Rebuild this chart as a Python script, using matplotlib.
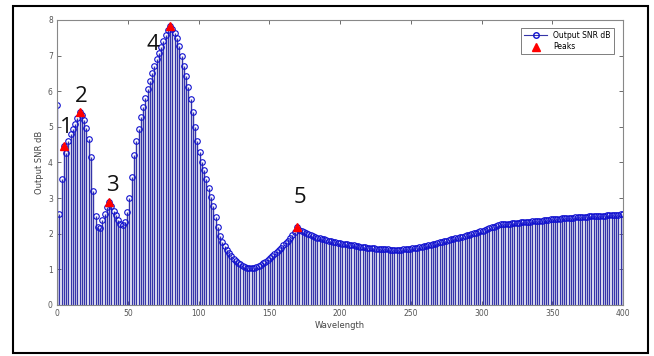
import matplotlib.pyplot as plt
import numpy as np
from matplotlib.patches import Rectangle
from matplotlib.lines import Line2D

# Output SNR (dB) sampled along wavelength 0..400
snr = [5.6, 2.55, 3.55, 4.45, 4.28, 4.6, 4.8, 4.93, 5.08, 5.25,
       5.42, 5.33, 5.18, 4.97, 4.65, 4.15, 3.2, 2.5, 2.18, 2.15,
       2.38, 2.56, 2.75, 2.88, 2.77, 2.65, 2.52, 2.38, 2.28, 2.24,
       2.33, 2.6, 3.0, 3.6, 4.2, 4.6, 4.95, 5.28, 5.55, 5.8,
       6.05, 6.3, 6.52, 6.72, 6.9, 7.08, 7.25, 7.42, 7.58, 7.72,
       7.82, 7.75, 7.63, 7.48, 7.28, 7.0, 6.72, 6.42, 6.12, 5.78,
       5.42, 5.0, 4.6, 4.3, 4.0, 3.78, 3.54, 3.28, 3.03, 2.78,
       2.48, 2.18, 1.95, 1.78, 1.65, 1.54, 1.45, 1.37, 1.3, 1.24,
       1.19, 1.14, 1.1, 1.07, 1.05, 1.03, 1.03, 1.04, 1.06, 1.09,
       1.13, 1.17, 1.22, 1.27, 1.32, 1.37, 1.43, 1.49, 1.55, 1.61,
       1.67, 1.74, 1.81, 1.88, 1.96, 2.05, 2.18, 2.1, 2.07, 2.04,
       2.01, 1.98, 1.96, 1.93, 1.91, 1.89, 1.87, 1.85, 1.84, 1.82,
       1.8, 1.79, 1.77, 1.76, 1.74, 1.73, 1.72, 1.71, 1.7, 1.69,
       1.68, 1.67, 1.66, 1.65, 1.64, 1.63, 1.62, 1.61, 1.61, 1.6,
       1.59, 1.58, 1.58, 1.57, 1.57, 1.56, 1.56, 1.55, 1.55, 1.55,
       1.55, 1.55, 1.55, 1.56, 1.56, 1.57, 1.58, 1.59, 1.6, 1.61,
       1.62, 1.63, 1.65, 1.66, 1.68, 1.69, 1.71, 1.72, 1.74, 1.76,
       1.77, 1.79, 1.8, 1.82, 1.84, 1.85, 1.87, 1.89, 1.9, 1.92,
       1.94, 1.96, 1.97, 1.99, 2.01, 2.03, 2.05, 2.07, 2.09, 2.11,
       2.13, 2.15, 2.18, 2.2, 2.23, 2.25, 2.26, 2.26, 2.27, 2.28,
       2.28, 2.29, 2.3, 2.3, 2.31, 2.32, 2.32, 2.33, 2.34, 2.34,
       2.35, 2.35, 2.36, 2.37, 2.37, 2.38, 2.39, 2.39, 2.4, 2.41,
       2.41, 2.42, 2.42, 2.43, 2.43, 2.44, 2.44, 2.45, 2.45, 2.46,
       2.46, 2.47, 2.47, 2.48, 2.48, 2.49, 2.49, 2.49, 2.5, 2.5,
       2.51, 2.51, 2.51, 2.52, 2.52, 2.52, 2.53, 2.53, 2.53, 2.54, 2.54]
wavelength = np.linspace(0, 400, len(snr))

peak_idx = [3, 10, 23, 50, 106]
peak_labels = ['1', '2', '3', '4', '5']
label_offsets = [(2, 19), (2, 15), (3, 17), (-17, -18), (3, 30)]  # pixels

stem_col = '#3535a8'
mark_col = '#1010d0'

fig = plt.figure(figsize=(6.54, 3.56), dpi=100)
fig.patches.append(Rectangle((0.02, 0.009), 0.971, 0.974, transform=fig.transFigure,
                             fill=False, edgecolor='black', linewidth=1.5))
ax = fig.add_axes([0.0872, 0.1433, 0.8654, 0.8006])

snr = np.array(snr)
ml, sl, bl = ax.stem(wavelength, snr, linefmt='-', markerfmt='o', basefmt=' ')
plt.setp(sl, color=stem_col, linewidth=1.0)
plt.setp(ml, markerfacecolor='none', markeredgecolor=mark_col, markersize=4.0,
         markeredgewidth=0.8)

ax.plot(wavelength[peak_idx], snr[peak_idx], '^', color='red', markersize=6, zorder=5)

for i, lab, off in zip(peak_idx, peak_labels, label_offsets):
    ax.annotate(lab, (wavelength[i], snr[i]), xytext=off, textcoords='offset pixels',
                ha='center', va='center', fontsize=16, family='Open Sans', color='#111111')

ax.set_xlim(0, 400)
ax.set_ylim(0, 8)
ax.set_xticks(range(0, 401, 50))
ax.set_yticks(range(0, 9))
ax.tick_params(direction='in', top=True, right=True, length=3, width=0.6,
               colors='#555555', labelsize=5.5, labelcolor='#555555', pad=3)
for s in ax.spines.values():
    s.set_color('#888888')
    s.set_linewidth(0.8)
ax.set_xlabel('Wavelength', fontsize=6, color='#444444', labelpad=2)
ax.set_ylabel('Output SNR dB', fontsize=6, color='#444444', labelpad=3)

handles = [Line2D([], [], color=stem_col, linewidth=0.8, marker='o', markevery=[1],
                  markerfacecolor='none', markeredgecolor=mark_col, markersize=4),
           Line2D([], [], linestyle='none', marker='^', color='red', markersize=6)]
leg = ax.legend(handles, ['Output SNR dB', 'Peaks'], loc='upper right', fontsize=5.5,
                frameon=True, fancybox=False, borderpad=0.4, handlelength=3,
                labelspacing=0.3, bbox_to_anchor=(0.99, 0.985))
leg.get_frame().set_edgecolor('#444444')
leg.get_frame().set_linewidth(0.6)

fig.savefig('out.png', dpi=100)
